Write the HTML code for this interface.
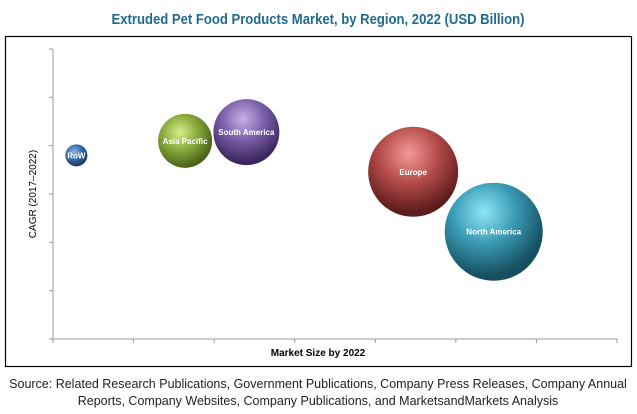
<!DOCTYPE html>
<html><head><meta charset="utf-8"><style>
body{margin:0;background:#fff;width:637px;height:414px;overflow:hidden;font-family:"Liberation Sans",sans-serif}
svg{display:block}
</style></head><body>
<svg width="637" height="414">
<defs>
<radialGradient id="gRoW" cx="40%" cy="35%" r="65%"><stop offset="0" stop-color="#8fb4e0"/><stop offset="0.5" stop-color="#3d6fae"/><stop offset="1" stop-color="#1a3560"/></radialGradient>
<radialGradient id="gAP" cx="40%" cy="35%" r="65%"><stop offset="0" stop-color="#d6ef8a"/><stop offset="0.5" stop-color="#8aaa3c"/><stop offset="1" stop-color="#4a6018"/></radialGradient>
<radialGradient id="gSA" cx="45%" cy="30%" r="65%"><stop offset="0" stop-color="#c7b2e6"/><stop offset="0.5" stop-color="#7a5ea8"/><stop offset="1" stop-color="#3c2860"/></radialGradient>
<radialGradient id="gEU" cx="45%" cy="30%" r="65%"><stop offset="0" stop-color="#f49a98"/><stop offset="0.5" stop-color="#b44c4a"/><stop offset="1" stop-color="#5e1c1c"/></radialGradient>
<radialGradient id="gNA" cx="40%" cy="30%" r="65%"><stop offset="0" stop-color="#8fe6f6"/><stop offset="0.5" stop-color="#3a9ab4"/><stop offset="1" stop-color="#164f60"/></radialGradient>
</defs>
<text x="318" y="24" text-anchor="middle" font-size="15" font-weight="bold" fill="#1f6b8f" textLength="413" lengthAdjust="spacingAndGlyphs">Extruded Pet Food Products Market, by Region, 2022 (USD Billion)</text>
<rect x="5.5" y="36.5" width="626" height="330" fill="none" stroke="#000" stroke-width="1.2"/>
<g id="axes"></g>
<g id="bubbles"></g>
<text x="318" y="356" text-anchor="middle" font-size="10" font-weight="bold" fill="#000">Market Size by 2022</text>
<text transform="translate(36,194) rotate(-90)" text-anchor="middle" font-size="10" fill="#000">CAGR (2017–2022)</text>
<text x="318" y="388" text-anchor="middle" font-size="12.5" fill="#222">Source: Related Research Publications, Government Publications, Company Press Releases, Company Annual</text>
<text x="318" y="405" text-anchor="middle" font-size="12.5" fill="#222">Reports, Company Websites, Company Publications, and MarketsandMarkets Analysis</text>
</svg>
<script>
const regions=["RoW","Asia Pacific","South America","Europe","North America"];
const marketSize=[0.29,1.64,2.4,4.47,5.47];
const cagr=[3.8,4.1,4.28,3.46,2.22];
const bubbleSize=[11,27,33,45,49];
const grads=["gRoW","gAP","gSA","gEU","gNA"];
const xTicks=[0,1,2,3,4,5,6,7];
const yTicks=[0,1,2,3,4,5,6];
const X0=53,X1=617,Y0=339,Y1=49;
const xs=v=>X0+v/7*(X1-X0);
const ys=v=>Y0-v/6*(Y0-Y1);
const NS="http://www.w3.org/2000/svg";
const ax=document.getElementById('axes');
function ln(x1,y1,x2,y2,n){const l=document.createElementNS(NS,'line');l.setAttribute('x1',x1);l.setAttribute('y1',y1);l.setAttribute('x2',x2);l.setAttribute('y2',y2);l.setAttribute('stroke','#999');l.setAttribute('stroke-width','1');


ax.appendChild(l);}
ln(X0,Y0,X1,Y0,'x-axis-line');ln(X0,Y0,X0,Y1,'y-axis-line');
xTicks.forEach(t=>ln(xs(t),Y0,xs(t),Y0+4,'x-tick'));
yTicks.forEach(t=>ln(X0-4,ys(t),X0,ys(t),'y-tick'));
const bg=document.getElementById('bubbles');
regions.forEach((r,i)=>{const c=document.createElementNS(NS,'circle');c.setAttribute('cx',xs(marketSize[i]));c.setAttribute('cy',ys(cagr[i]));c.setAttribute('r',bubbleSize[i]);c.setAttribute('fill','url(#'+grads[i]+')');


bg.appendChild(c);
const t=document.createElementNS(NS,'text');t.setAttribute('x',xs(marketSize[i]));t.setAttribute('y',ys(cagr[i])+3);t.setAttribute('text-anchor','middle');t.setAttribute('font-size','8');t.setAttribute('font-weight','bold');t.setAttribute('fill','#fff');t.textContent=r;


bg.appendChild(t);});
</script>
</body></html>
